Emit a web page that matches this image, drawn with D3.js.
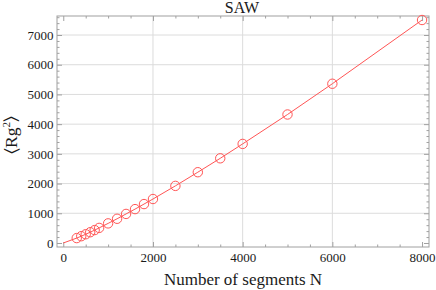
<!DOCTYPE html>
<html><head><meta charset="utf-8">
<script src="https://cdn.jsdelivr.net/npm/d3@7"></script>
<style>body{margin:0;background:#fff}svg{display:block}svg text{font-family:"Liberation Serif","Times New Roman",serif !important;fill:#1a1a1a}</style>
</head><body>
<script>
const segmentsN = [300,400,500,600,700,800,1000,1200,1400,1600,1800,2000,2500,3000,3500,4000,5000,6000,8000];
const rg2 = [165,228,294,362,434,508,660,815,978,1140,1310,1480,1922,2382,2850,3335,4325,5360,7505];
const xTicks = [0,2000,4000,6000,8000];
const yTicks = [0,1000,2000,3000,4000,5000,6000,7000];
const lineN = [0].concat(segmentsN);
const lineV = [0].concat(rg2);

const W=436,H=290;
const FONT='"Liberation Serif","Times New Roman",serif';
const svg=d3.select("body").append("svg").attr("width",W).attr("height",H);
const x=d3.scaleLinear().domain([-140,8155]).range([57,429]);
const y=d3.scaleLinear().domain([-135,7640]).range([247,16]);
const L=57,R=429,T=16,B=247;

// grid
const xGrid=[2000,4000,6000], yGrid=yTicks.filter(v=>v>0);
svg.append("g").selectAll("line").data(xGrid).join("line")
 .attr("x1",d=>x(d)).attr("x2",d=>x(d)).attr("y1",T).attr("y2",B)
 .attr("stroke","#dcdcdc").attr("stroke-width",1);
svg.append("g").selectAll("line").data(yGrid).join("line")
 .attr("y1",d=>y(d)).attr("y2",d=>y(d)).attr("x1",L).attr("x2",R)
 .attr("stroke","#dcdcdc").attr("stroke-width",1);

// frame axes
const frameCol="#a0a0a0";
const xMinor=d3.range(0,8155,500).filter(v=>v%2000!==0);
const yMinor=d3.range(0,7640,200).filter(v=>v%1000!==0);
function fx(g,ax){g.call(ax);g.attr("font-family",FONT);g.select(".domain").remove();g.selectAll("line").attr("stroke",frameCol);
 g.selectAll("text").attr("font-family",FONT).style("font-family",FONT);}
// bottom
svg.append("g").attr("transform",`translate(0,${B})`).call(g=>fx(g,d3.axisBottom(x).tickValues(xMinor).tickSize(-2.5).tickFormat("")));
svg.append("g").attr("transform",`translate(0,${B})`).call(g=>{fx(g,d3.axisBottom(x).tickValues(xTicks).tickSize(-5).tickFormat(d3.format("d")));
 g.selectAll("text").attr("font-size",13).attr("dy","0.71em").attr("y",5.5);});
// top
svg.append("g").attr("transform",`translate(0,${T})`).call(g=>fx(g,d3.axisTop(x).tickValues(xMinor).tickSize(-2.5).tickFormat("")));
svg.append("g").attr("transform",`translate(0,${T})`).call(g=>fx(g,d3.axisTop(x).tickValues(xTicks).tickSize(-5).tickFormat("")));
// left
svg.append("g").attr("transform",`translate(${L},0)`).call(g=>fx(g,d3.axisLeft(y).tickValues(yMinor).tickSize(-2.5).tickFormat("")));
svg.append("g").attr("transform",`translate(${L},0)`).call(g=>{fx(g,d3.axisLeft(y).tickValues(yTicks).tickSize(-5).tickFormat(d3.format("d")));
 g.selectAll("text").attr("font-size",13).attr("x",-3.5);});
// right
svg.append("g").attr("transform",`translate(${R},0)`).call(g=>fx(g,d3.axisRight(y).tickValues(yMinor).tickSize(-2.5).tickFormat("")));
svg.append("g").attr("transform",`translate(${R},0)`).call(g=>fx(g,d3.axisRight(y).tickValues(yTicks).tickSize(-5).tickFormat("")));
svg.selectAll(".tick text").attr("fill","#1a1a1a");
svg.append("rect").attr("x",L).attr("y",T).attr("width",R-L).attr("height",B-T)
 .attr("fill","none").attr("stroke",frameCol).attr("stroke-width",1);

// line
const red="#ff5555";
svg.append("path").datum(lineN.map((n,i)=>[n,lineV[i]]))
 .attr("d",d3.line().x(d=>x(d[0])).y(d=>y(d[1])))
 .attr("fill","none").attr("stroke",red).attr("stroke-width",1);
svg.append("g").selectAll("circle").data(segmentsN).join("circle")
 .attr("cx",d=>x(d)).attr("cy",(d,i)=>y(rg2[i])).attr("r",4.7)
 .attr("fill","none").attr("stroke",red).attr("stroke-width",1);

// labels
svg.append("text").attr("x",242).attr("y",13).attr("text-anchor","middle").attr("font-size",16).text("SAW");
svg.append("text").attr("x",243).attr("y",285).attr("text-anchor","middle").attr("font-size",17).text("Number of segments N");
const yl=svg.append("text").attr("transform","translate(17,135) rotate(-90)").attr("text-anchor","middle").attr("font-size",17.5);
yl.append("tspan").text("\u2329Rg");
yl.append("tspan").attr("font-size",11).attr("dy",-7).text("2");
yl.append("tspan").attr("dy",7).text("\u232A");
</script>
</body></html>
